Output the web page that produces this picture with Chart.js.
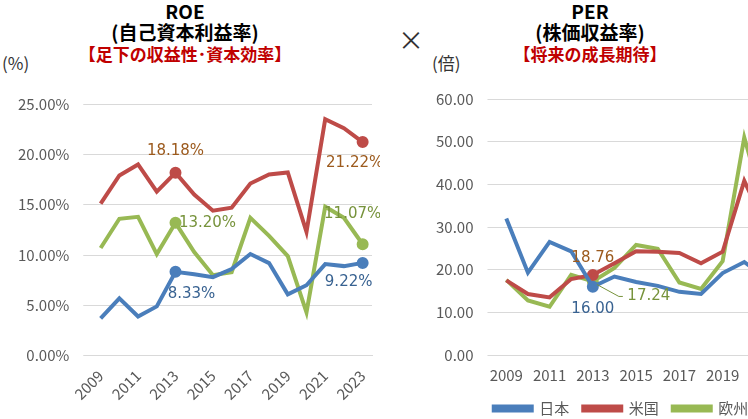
<!DOCTYPE html>
<html><head><meta charset="utf-8">
<script src="https://cdn.jsdelivr.net/npm/chart.js@4"></script>
<style>
body{margin:0;width:748px;height:419px;overflow:hidden;background:#fff;font-family:"Noto Sans CJK JP","Noto Sans",sans-serif;position:relative}
.t{position:absolute;text-align:center;font-weight:bold;line-height:21px;font-size:19px;color:#000}
.t .r{color:#c00000;font-size:17px}
.u{position:absolute;font-size:17px;color:#333}
#w1{position:absolute;left:0;top:70px;width:380px;height:375px}
#w2{position:absolute;left:412px;top:70px;width:418px;height:364px}
</style></head><body>
<div class="t" style="left:40px;top:0px;width:290px">ROE<br>(自己資本利益率)<br><span class="r">【足下の収益性･資本効率】</span></div>
<div class="t" style="left:460px;top:0px;width:260px">PER<br>(株価収益率)<br><span class="r">【将来の成長期待】</span></div>
<div class="u" style="left:2px;top:50px">(%)</div>
<div class="u" style="left:432px;top:50px">(倍)</div>
<div class="u" style="left:398px;top:20px;font-size:26px">×</div>
<div id="w1"><canvas id="c1"></canvas></div>
<div id="w2"><canvas id="c2"></canvas></div>
<script>
"use strict";
const years = ["2009","2010","2011","2012","2013","2014","2015","2016","2017","2018","2019","2020","2021","2022","2023"];
const roeJapan = [3.7,5.7,3.9,4.9,8.33,8.1,7.8,8.6,10.1,9.2,6.1,7.0,9.1,8.9,9.22];
const roeUS = [15.1,17.9,19.0,16.3,18.18,16.0,14.4,14.7,17.1,18.0,18.2,12.3,23.5,22.6,21.22];
const roeEU = [10.7,13.6,13.8,10.1,13.20,10.3,8.0,8.3,13.7,11.9,9.9,4.3,14.8,13.7,11.07];
const perJapan = [32.0,19.3,26.5,24.3,16.00,18.4,17.1,16.2,14.8,14.3,19.2,21.8,18.0,12.5,15.0];
const perUS = [17.5,14.3,13.5,17.8,18.76,21.5,24.3,24.2,23.9,21.5,24.2,40.8,30.0,22.0,24.0];
const perEU = [17.6,12.8,11.3,18.8,17.24,20.4,25.8,24.9,17.0,15.5,22.0,51.0,33.0,13.0,14.0];
const seriesNames = ["日本","米国","欧州"];

const BLUE = "#4a7ebb", RED = "#be4b48", GREEN = "#98b954";
const tickColor = "#595959";
const font = { family: "'Noto Sans CJK JP','DejaVu Sans',sans-serif", size: 15 };

// labels: [datasetIndex, pointIndex, text, dx, dy, color, leader]
const labelPlugin = {
  id: "lbl",
  afterDatasetsDraw(chart, args, opts) {
    const ctx = chart.ctx;
    ctx.save();
    ctx.font = "15px Verdana, 'DejaVu Sans', sans-serif";
    ctx.textAlign = "center"; ctx.textBaseline = "middle";
    opts.items.forEach(([d, i, txt, dx, dy, col, lead]) => {
      const p = chart.getDatasetMeta(d).data[i];
      if (lead) {
        ctx.strokeStyle = col; ctx.lineWidth = 1;
        ctx.beginPath(); ctx.moveTo(p.x + 4, p.y + 3); ctx.lineTo(p.x + dx - 30, p.y + dy); ctx.lineTo(p.x + dx - 26, p.y + dy); ctx.stroke();
      }
      ctx.fillStyle = col;
      ctx.fillText(txt, p.x + dx, p.y + dy);
    });
    ctx.restore();
  }
};

function ds(label, data, color) {
  return { label, data, borderColor: color, backgroundColor: color, borderWidth: 4, tension: 0,
    pointRadius: data.map((_, i) => (i === 4 || i === 14) ? 4 : 0), pointHoverRadius: 0 };
}

function makeChart(id, sets, yMax, step, fmt, rot, items, pad) {
  new Chart(document.getElementById(id), {
    type: "line",
    data: { labels: years, datasets: sets },
    plugins: [labelPlugin],
    options: {
      responsive: true, maintainAspectRatio: false, animation: false,
      layout: { padding: pad },
      plugins: {
        legend: { position: "bottom", labels: { font, color: tickColor, boxWidth: 38, boxHeight: 4, padding: 14 } },
        tooltip: { enabled: false },
        lbl: { items }
      },
      scales: {
        x: { offset: true, grid: { display: false }, border: { color: "#d9d9d9" },
          ticks: { font, color: tickColor, maxRotation: rot, minRotation: rot, autoSkip: false,
            callback: (v, i) => i % 2 === 0 ? years[i] : "" } },
        y: { min: 0, max: yMax, grid: { color: "#d9d9d9" }, border: { display: false },
          ticks: { font, color: tickColor, stepSize: step, padding: 14, callback: fmt } }
      }
    }
  });
}

makeChart("c1", [ds(seriesNames[0], roeJapan, BLUE), ds(seriesNames[1], roeUS, RED), ds(seriesNames[2], roeEU, GREEN)],
  25, 5, v => v.toFixed(2) + "%", 45,
  [[1,4,"18.18%",0,-22,"#9c5a1d"],[1,14,"21.22%",-8,21,"#9c5a1d"],
   [2,4,"13.20%",32,0,"#77933c"],[2,14,"11.07%",-10,-30,"#77933c"],
   [0,4,"8.33%",16,22,"#386291"],[0,14,"9.22%",-14,19,"#386291"]],
  { left: 4, right: 6, top: 34, bottom: 0 });

makeChart("c2", [ds(seriesNames[0], perJapan, BLUE), ds(seriesNames[1], perUS, RED), ds(seriesNames[2], perEU, GREEN)],
  60, 10, v => v.toFixed(2), 0,
  [[1,4,"18.76",0,-17,"#9c5a1d"],[0,4,"16.00",0,22,"#386291"],[2,4,"17.24",56,15,"#77933c",true]],
  { left: 10, right: 10, top: 29, bottom: 8 });
</script>
</body></html>
